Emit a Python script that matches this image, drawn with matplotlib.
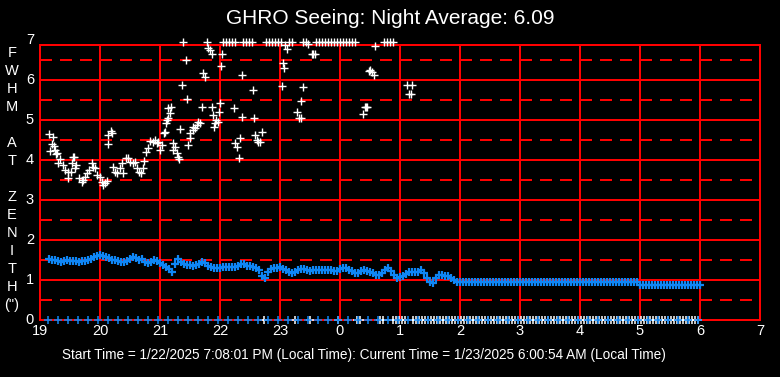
import numpy as np
import matplotlib
matplotlib.use("Agg")
import matplotlib.pyplot as plt

plt.rcParams['lines.scale_dashes'] = False
plt.rcParams['font.family'] = ['Liberation Sans', 'DejaVu Sans']

# ---------------- data ----------------
title = "GHRO Seeing: Night Average: 6.09"
footer = ("Start Time = 1/22/2025 7:08:01 PM (Local Time): "
          "Current Time = 1/23/2025 6:00:54 AM (Local Time)")
ylabel_letters = ["F", "W", "H", "M", "", "A", "T", "", "Z", "E", "N", "I", "T", "H", "(\")"]

x_ticks = list(range(19, 32))
x_tick_labels = ["19", "20", "21", "22", "23", "0", "1", "2", "3", "4", "5", "6", "7"]
y_ticks = list(range(0, 8))

# raw FWHM (white) : hours since midnight of start day (24 = midnight)
white_t = [19.155, 19.21, 19.195, 19.233, 19.167, 19.25, 19.28, 19.26, 19.333, 19.305,
           19.378, 19.417, 19.472, 19.512, 19.472, 19.555, 19.572, 19.528, 19.6, 19.583,
           19.655, 19.695, 19.722, 19.75, 19.778, 19.822, 19.862, 19.888, 19.917, 19.955,
           20.0, 20.028, 20.055, 20.083, 20.112, 20.138, 20.183, 20.195, 20.138, 20.212,
           20.25, 20.278, 20.333, 20.362, 20.388, 20.433, 20.472, 20.5, 20.545, 20.583,
           20.612, 20.655, 20.678, 20.712, 20.733, 20.767, 20.805, 20.833, 20.888, 20.917,
           20.945, 20.972, 21.0, 21.028, 21.067, 21.1, 21.083, 21.112, 21.138, 21.138,
           21.178, 21.167, 21.222, 21.25, 21.212, 21.278, 21.305, 21.322, 21.333, 21.362,
           21.428, 21.445, 21.472, 21.5, 21.5, 21.545, 21.555, 21.583, 21.612, 21.638,
           21.667, 21.70, 21.722, 21.75, 21.805, 21.833, 21.862, 21.872, 21.888, 21.917,
           21.933, 21.905, 21.972, 21.988, 22.0, 22.022, 22.038, 22.238, 22.362, 22.372,
           22.555, 22.572, 22.25, 22.278, 22.317, 22.333, 22.583, 22.612, 22.638, 22.667,
           22.705, 23.055, 23.072, 23.083, 23.112, 23.038, 23.378, 23.355, 23.288, 23.322,
           23.345, 23.472, 23.53, 23.555, 23.58, 24.5, 24.528, 24.572, 24.483, 24.588,
           24.418, 24.433, 24.448, 24.388, 25.112, 25.205, 25.145, 25.183]
white_v = [4.64, 4.57, 4.40, 4.35, 4.23, 4.25, 4.17, 4.14, 4.02, 3.92,
           3.875, 3.75, 3.71, 3.69, 3.54, 4.08, 4.07, 3.92, 3.875, 3.79,
           3.54, 3.46, 3.50, 3.58, 3.67, 3.75, 3.92, 3.83, 3.79, 3.625,
           3.57, 3.46, 3.375, 3.42, 3.48, 4.625, 4.73, 4.67, 4.40, 3.83,
           3.71, 3.67, 3.79, 3.92, 3.67, 4.04, 4.04, 3.96, 3.93, 3.96,
           3.79, 3.71, 3.67, 3.79, 3.98, 4.21, 4.29, 4.48, 4.46, 4.50,
           4.42, 4.45, 4.25, 4.375, 4.68, 4.93, 4.71, 5.00, 5.04, 5.29,
           5.33, 5.17, 4.42, 4.33, 4.25, 4.17, 4.08, 4.02, 4.77, 5.875,
           6.50, 5.52, 4.375, 4.54, 4.67, 4.75, 4.83, 4.79, 4.875, 4.96,
           4.92, 5.33, 6.18, 6.07, 6.79, 6.75, 6.65, 5.33, 5.125, 4.92,
           5.00, 4.83, 4.96, 5.21, 5.42, 6.35, 6.65, 5.29, 5.07, 6.125,
           5.75, 5.04, 4.42, 4.33, 4.04, 4.54, 4.625, 4.50, 4.45, 4.46,
           4.71, 6.42, 6.29, 6.875, 6.78, 5.85, 5.82, 5.475, 5.19, 5.04,
           5.04, 6.89, 6.64, 6.64, 6.64, 6.25, 6.19, 6.125, 6.22, 6.85,
           5.32, 5.32, 5.32, 5.14, 5.87, 5.87, 5.64, 5.64]

# raw values at or above the top of the scale (drawn on the top edge)
white_top_t = [21.383, 21.783, 22.05, 22.1, 22.15, 22.2, 22.25, 22.383, 22.433, 22.483,
               22.533, 22.767, 22.817, 22.867, 22.917, 22.967, 23.017, 23.15, 23.2, 23.383,
               23.433, 23.6, 23.65, 23.7, 23.75, 23.8, 23.85, 23.9, 23.95, 24.0,
               24.05, 24.1, 24.15, 24.2, 24.25, 24.733, 24.783, 24.833, 24.883]
white_top_v = [6.94] * len(white_top_t)

# raw values of zero (no measurement)
white_zero_t = [22.733, 23.25, 23.5, 23.967, 24.283, 24.333, 24.667, 24.717,
                24.883, 24.933, 24.983, 25.033, 25.083] + list(np.arange(25.217, 30.01, 0.05))
white_zero_v = [0.0] * len(white_zero_t)

# averaged seeing (blue)
blue_t = list(np.arange(19.15, 30.01, 0.05))
blue_v = [1.52, 1.51, 1.50, 1.48, 1.46, 1.47, 1.49, 1.48, 1.48, 1.47,
          1.46, 1.47, 1.48, 1.50, 1.53, 1.57, 1.60, 1.62, 1.61, 1.58,
          1.55, 1.51, 1.49, 1.47, 1.44, 1.44, 1.48, 1.53, 1.57, 1.54,
          1.50, 1.52, 1.46, 1.43, 1.46, 1.50, 1.48, 1.43, 1.38, 1.33,
          1.27, 1.21, 1.40, 1.52, 1.46, 1.41, 1.38, 1.37, 1.35, 1.38,
          1.41, 1.45, 1.43, 1.36, 1.32, 1.30, 1.29, 1.30, 1.32, 1.33,
          1.33, 1.32, 1.33, 1.35, 1.39, 1.39, 1.36, 1.34, 1.32, 1.29,
          1.24, 1.10, 1.05, 1.20, 1.27, 1.29, 1.31, 1.33, 1.28, 1.24,
          1.21, 1.17, 1.20, 1.24, 1.28, 1.28, 1.25, 1.23, 1.24, 1.26,
          1.26, 1.25, 1.25, 1.26, 1.24, 1.23, 1.23, 1.28, 1.31, 1.29,
          1.26, 1.22, 1.18, 1.18, 1.23, 1.25, 1.23, 1.21, 1.17, 1.12,
          1.12, 1.18, 1.25, 1.29, 1.22, 1.12, 1.06, 1.07, 1.09, 1.14,
          1.19, 1.21, 1.19, 1.20, 1.24, 1.18, 1.04, 0.95, 0.93, 1.04,
          1.12, 1.13, 1.11, 1.10, 1.05, 0.99, 0.95] + [0.96] * 60 + [0.87] * 21

blue_zero_t = list(np.arange(19.133, 30.01, 1.0 / 6.0))
blue_zero_v = [0.0] * len(blue_zero_t)

# ---------------- style ----------------
RED = '#FF0000'
BLUE = '#0F86F5'
LW = 1.44  # 2 px

fig = plt.figure(figsize=(7.8, 3.77), dpi=100, facecolor='black')
ax = fig.add_axes([40 / 780, 1 - 320 / 377, 720 / 780, 275 / 377])
ax.set_facecolor('black')
ax.set_xlim(19, 31)
ax.set_ylim(0, 6.875)

for h in range(20, 31):
    ax.axvline(h, color=RED, lw=LW, zorder=1)
for y in range(1, 7):
    ax.axhline(y, color=RED, lw=LW, zorder=1)
for k in range(7):
    y = k + 0.5
    ax.plot([19, 31], [y, y], color=RED, lw=LW, dashes=(8.64, 5.76),
            solid_capstyle='butt', dash_capstyle='butt', zorder=1)
for s in ax.spines.values():
    s.set_color(RED)
    s.set_linewidth(LW)

ax.plot(white_zero_t, white_zero_v, ls='none', marker='+', ms=5.6, mew=1.1,
        color='white', clip_on=False, zorder=3)
ax.plot(blue_zero_t, blue_zero_v, ls='none', marker='+', ms=5.6, mew=1.1,
        color=BLUE, clip_on=False, zorder=4)
ax.plot(blue_t, blue_v, ls='none', marker='+', ms=6.0, mew=1.6,
        color=BLUE, clip_on=False, zorder=4)
ax.plot(white_t, white_v, ls='none', marker='+', ms=5.6, mew=1.0,
        color='white', clip_on=False, zorder=5)
ax.plot(white_top_t, white_top_v, ls='none', marker='+', ms=5.6, mew=1.0,
        color='white', clip_on=False, zorder=5)

ax.set_xticks(x_ticks)
ax.set_xticklabels(x_tick_labels)
ax.set_yticks([])
ax.tick_params(axis='x', length=0, pad=3, labelsize=10.5, labelcolor='white')

for v in y_ticks:
    ax.text(-6 / 720, v, str(v), transform=ax.get_yaxis_transform(),
            ha='right', va='center', color='white', fontsize=10.5, clip_on=False)
# y-axis label stacked letters
for i, ch in enumerate(ylabel_letters):
    if ch:
        fig.text(12 / 780, 1 - (53 + 18 * i) / 377, ch, ha='center', va='center',
                 color='white', fontsize=10.5)

fig.text(390 / 780, 1 - 18 / 377, title, ha='center', va='center', color='white', fontsize=15)
fig.text(363.5 / 780, 1 - 355 / 377, footer, ha='center', va='center', color='white', fontsize=9.8)

fig.savefig('out.png', dpi=100, facecolor='black')
